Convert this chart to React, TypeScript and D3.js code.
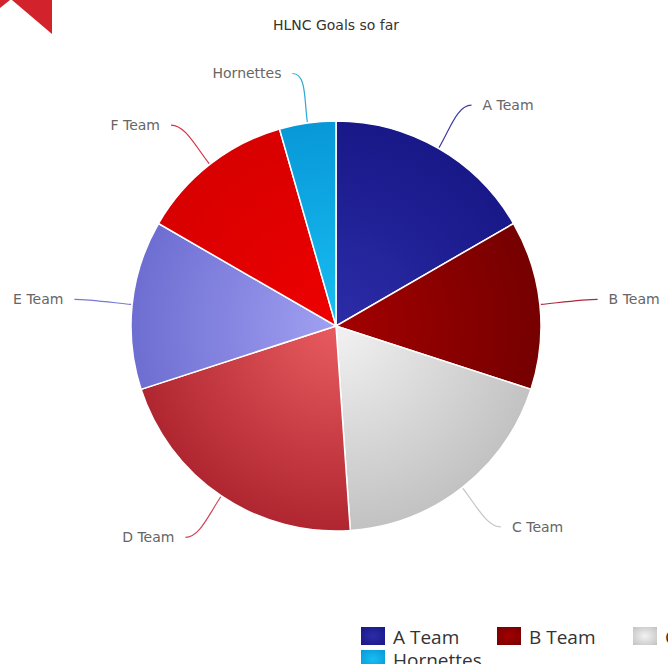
import React, { useEffect, useRef } from 'react';
import * as d3 from 'd3';

const teams = ['A Team', 'B Team', 'C Team', 'D Team', 'E Team', 'F Team', 'Hornettes'];
const goals = [15, 12, 17, 19, 12, 11, 4];
const innerColors = ['#2c2ca8', '#a40000', '#f2f2f2', '#e85c60', '#a0a0f2', '#ee0000', '#18bef2'];
const outerColors = ['#181888', '#760000', '#c2c2c2', '#b02630', '#6e6ed2', '#d80000', '#0898d8'];
const lineColors = ['#3c3ca0', '#b02838', '#c4c4c4', '#d04858', '#7878d8', '#d83040', '#28a8d8'];

const W = 668;
const H = 664;

export default function App() {
  const svgRef = useRef<SVGSVGElement | null>(null);

  useEffect(() => {
    const svg = d3.select(svgRef.current).attr('width', W).attr('height', H);
    svg.selectAll('*').remove();

    const cx = 336;
    const cy = 326;
    const r = 205;
    const labelR = 255;

    const data = teams.map((t, i) => ({ team: t, value: goals[i], i }));
    const pie = d3.pie<any>().sort(null).value(d => d.value);
    const arcs = pie(data);
    const arc = d3.arc<any>().innerRadius(0).outerRadius(r);

    const defs = svg.append('defs');
    data.forEach((d, i) => {
      const g = defs.append('radialGradient')
        .attr('id', `grad${i}`)
        .attr('gradientUnits', 'userSpaceOnUse')
        .attr('cx', 0).attr('cy', 0).attr('r', r);
      g.append('stop').attr('offset', '0%').attr('stop-color', innerColors[i]);
      g.append('stop').attr('offset', '100%').attr('stop-color', outerColors[i]);
      const lg = defs.append('radialGradient')
        .attr('id', `lg${i}`)
        .attr('cx', 0.5).attr('cy', 0.5).attr('r', 0.7);
      lg.append('stop').attr('offset', '0%').attr('stop-color', innerColors[i]);
      lg.append('stop').attr('offset', '100%').attr('stop-color', outerColors[i]);
    });

    // corner logo
    svg.append('path').attr('d', 'M12,0 L52,0 L52,34 Z').attr('fill', '#d2222c');
    svg.append('path').attr('d', 'M0,0 L10,0 L0,8 Z').attr('fill', '#d2222c');

    svg.append('text')
      .attr('x', cx).attr('y', 30)
      .attr('text-anchor', 'middle')
      .attr('font-family', 'DejaVu Sans, sans-serif')
      .attr('font-size', 14)
      .attr('fill', '#333')
      .text('HLNC Goals so far');

    const g = svg.append('g').attr('transform', `translate(${cx},${cy})`);

    g.selectAll('path.slice')
      .data(arcs)
      .join('path')
      .attr('class', 'slice')
      .attr('d', arc as any)
      .attr('fill', d => `url(#grad${d.data.i})`)
      .attr('stroke', '#fff')
      .attr('stroke-width', 1.5);

    const pt = (a: number, rad: number) => [Math.sin(a) * rad, -Math.cos(a) * rad];

    arcs.forEach(a => {
      const mid = (a.startAngle + a.endAngle) / 2;
      const side = Math.sin(mid) >= 0 ? 1 : -1;
      const [ex, ey] = pt(mid, r + 1);
      const [c1x, c1y] = pt(mid, r + 24);
      const [px, py] = pt(mid, labelR);
      g.append('path')
        .attr('d', `M${ex},${ey} C${c1x},${c1y} ${px - side * 6},${py} ${px + side * 8},${py}`)
        .attr('fill', 'none')
        .attr('stroke', lineColors[a.data.i])
        .attr('stroke-width', 1.2);
      g.append('text')
        .attr('x', px + side * 19)
        .attr('y', py)
        .attr('dy', '0.35em')
        .attr('text-anchor', side > 0 ? 'start' : 'end')
        .attr('font-family', 'DejaVu Sans, sans-serif')
        .attr('font-size', 14)
        .attr('fill', '#666')
        .text(a.data.team);
    });

    // legend
    const legend = svg.append('g');
    const perRow = 6;
    data.forEach((d, i) => {
      const row = Math.floor(i / perRow);
      const col = i % perRow;
      const x = 361 + col * 136;
      const y = 627 + row * 23;
      legend.append('rect')
        .attr('x', x).attr('y', y)
        .attr('width', 24).attr('height', 18)
        .attr('fill', `url(#lg${i})`);
      legend.append('text')
        .attr('x', x + 32).attr('y', y + 17)
        .attr('font-family', 'Open Sans, sans-serif')
        .attr('font-size', 19)
        .attr('fill', '#333')
        .text(d.team);
    });
  }, []);

  return (
    <svg ref={svgRef} style={{ position: 'absolute', left: 0, top: 0, background: '#fff' }}></svg>
  );
}
